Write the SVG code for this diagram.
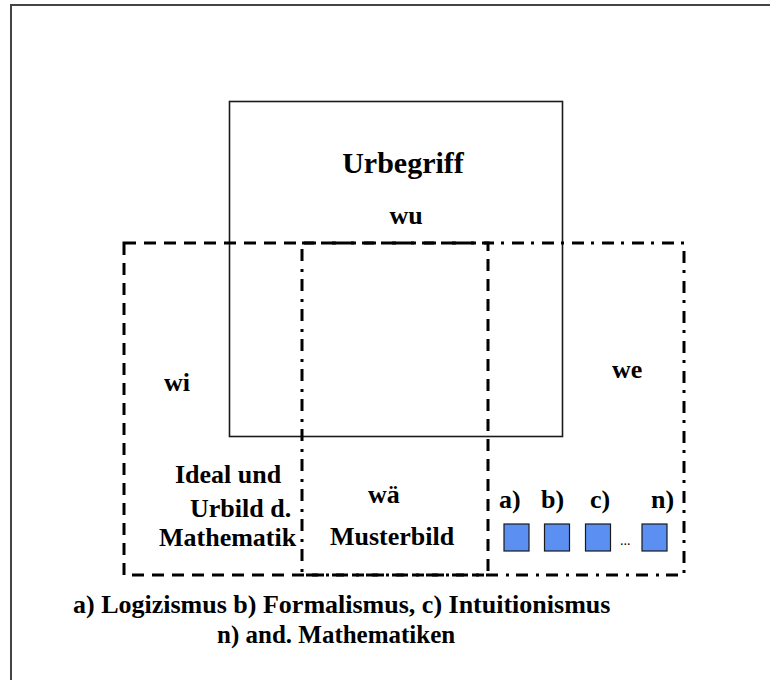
<svg xmlns="http://www.w3.org/2000/svg" width="770" height="680" viewBox="0 0 770 680">
  <style>
    .lbl { font-family: "Liberation Serif", "Times New Roman", serif; font-weight: bold; fill: #000; font-size: 26px; }
    .title { font-size: 30px; }
    .small { font-size: 25px; }
    .dots { font-family: "Liberation Serif", "Times New Roman", serif; font-size: 14px; fill: #000; }
    .region { fill: none; stroke: #000; stroke-width: 3; }
    .dashed { stroke-dasharray: 12 8; }
    .dashdot { stroke-dasharray: 12 7 3 8; }
    .item { fill: #5b8ff2; stroke: #1a1a1a; stroke-width: 1.2; }
  </style>

  <rect width="770" height="680" fill="#fff"/>

  <!-- outer frame (runs off the canvas to the right and bottom) -->
  <rect x="11" y="5" width="820" height="760" fill="none" stroke="#444" stroke-width="2"/>

  <!-- Urbegriff -->
  <g id="urbegriff">
    <rect x="229.5" y="101.5" width="333" height="335" fill="none" stroke="#1a1a1a" stroke-width="1.6"/>
    <text class="lbl title" x="403" y="173" text-anchor="middle">Urbegriff</text>
    <text class="lbl" x="406" y="224" text-anchor="middle">wu</text>
  </g>

  <!-- overlapping regions wi / we -->
  <g id="connectors">
    <rect id="we-region" class="region dashdot" x="302" y="243" width="382" height="332"/>
    <rect id="wi-region" class="region dashed" x="124" y="243" width="364" height="332"/>
  </g>

  <g id="wi">
    <text class="lbl" x="164" y="391">wi</text>
    <text class="lbl" x="175" y="483">Ideal und</text>
    <text class="lbl" x="190" y="517">Urbild d.</text>
    <text class="lbl" x="159" y="546">Mathematik</text>
  </g>

  <g id="wae">
    <text class="lbl" x="368" y="503">wä</text>
    <text class="lbl" x="330" y="545">Musterbild</text>
  </g>

  <g id="we">
    <text class="lbl" x="612" y="378">we</text>
    <text class="lbl" x="499" y="508">a)</text>
    <text class="lbl" x="541" y="508">b)</text>
    <text class="lbl" x="590" y="508">c)</text>
    <text class="lbl" x="651" y="508">n)</text>
    <rect class="item" x="504" y="524" width="25" height="27"/>
    <rect class="item" x="544.5" y="524" width="25" height="27"/>
    <rect class="item" x="585.5" y="524" width="25" height="27"/>
    <text class="dots" x="620" y="545">...</text>
    <rect class="item" x="642" y="524" width="25" height="27"/>
  </g>

  <!-- legend -->
  <g id="legend">
    <text class="lbl" x="73" y="613">a) Logizismus b) Formalismus, c) Intuitionismus</text>
    <text class="lbl small" x="217" y="643">n) and. Mathematiken</text>
  </g>
</svg>
